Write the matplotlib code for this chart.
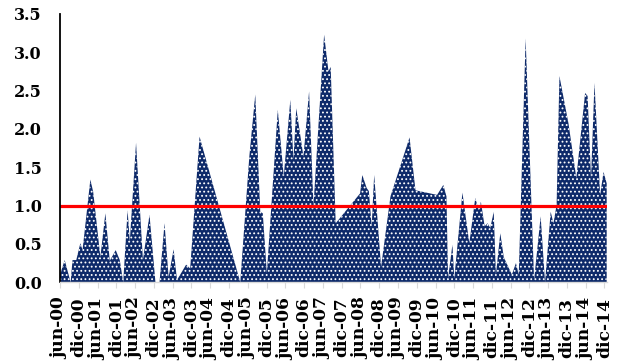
import matplotlib
matplotlib.use("Agg")
import matplotlib.pyplot as plt

# month offsets from jun-2000 and values
months = [0, 1.5, 3.4, 4.0, 5.2, 6.5, 7.2, 9.7, 10.6, 12.9, 14.5, 15.9, 17.8, 19.1, 20.2,
          21.6, 22.3, 24.3, 26.5, 28.6, 30.5, 31.8, 33.4, 34.7, 36.3, 37.4, 40.3, 41.6,
          44.6, 57.6, 60.5, 62.4, 64.0, 64.8, 66.1, 69.6, 71.5, 73.6, 74.6, 75.5, 77.8,
          79.6, 81.0, 84.4, 85.8, 86.5, 88.1, 95.9, 96.6, 98.0, 98.7, 99.6, 100.4, 102.6,
          105.6, 111.7, 113.6, 120.5, 122.5, 123.5, 124.0, 125.4, 126.0, 128.6, 130.8,
          132.7, 133.8, 134.5, 135.7, 136.6, 137.5, 138.6, 139.3, 140.7, 141.8, 144.4,
          145.7, 146.6, 148.8, 151.5, 153.6, 155.0, 156.8, 157.7, 158.7, 159.6, 162.5,
          165.0, 167.8, 168.6, 169.7, 170.8, 172.6, 173.7, 174.7]
values = [0.10, 0.29, 0.0, 0.29, 0.29, 0.51, 0.42, 1.34, 1.18, 0.33, 0.90, 0.28, 0.42, 0.29,
          0.0, 0.94, 0.53, 1.82, 0.29, 0.88, 0.0, 0.0, 0.77, 0.07, 0.43, 0.03, 0.23, 0.18,
          1.90, 0.0, 1.64, 2.45, 0.92, 0.90, 0.12, 2.25, 1.38, 2.38, 1.60, 2.27, 1.64,
          2.49, 1.00, 3.23, 2.75, 2.81, 0.77, 1.16, 1.40, 1.23, 1.19, 0.73, 1.40, 0.20,
          1.12, 1.89, 1.20, 1.14, 1.27, 1.12, 0.05, 0.49, 0.05, 1.17, 0.51, 1.10, 0.94,
          1.05, 0.73, 0.77, 0.71, 0.92, 0.10, 0.64, 0.33, 0.10, 0.25, 0.10, 3.18, 0.03,
          0.86, 0.0, 0.92, 0.77, 1.01, 2.69, 2.07, 1.36, 2.47, 2.43, 1.36, 2.60, 1.14,
          1.44, 1.29]

tick_months = [0, 6, 12, 18, 24, 30, 36, 42, 48, 54, 60, 66, 72, 78, 84, 90, 96, 102,
               108, 114, 120, 126, 132, 138, 144, 150, 156, 162, 168, 174]
tick_labels = ['jun-00', 'dic-00', 'jun-01', 'dic-01', 'jun-02', 'dic-02', 'jun-03',
               'dic-03', 'jun-04', 'dic-04', 'jun-05', 'dic-05', 'jun-06', 'dic-06',
               'jun-07', 'dic-07', 'jun-08', 'dic-08', 'jun-09', 'dic-09', 'jun-10',
               'dic-10', 'jun-11', 'dic-11', 'jun-12', 'dic-12', 'jun-13', 'dic-13',
               'jun-14', 'dic-14']
y_ticks = [0.0, 0.5, 1.0, 1.5, 2.0, 2.5, 3.0, 3.5]
threshold = 1.0

plt.rcParams['font.family'] = ['DejaVu Serif']
plt.rcParams['hatch.linewidth'] = 0.8

fig = plt.figure(figsize=(6.23, 3.64), dpi=100)
ax = fig.add_axes([60 / 623, (364 - 282.3) / 364, 547 / 623, 268.3 / 364])

ax.fill_between(months, values, 0, facecolor='#0e2a6a', edgecolor='white',
                hatch='....', linewidth=0)
ax.axhline(threshold, color='#ff0000', linewidth=2.3)

ax.set_xlim(0, 174.8)
ax.set_ylim(0, 3.5)
ax.set_yticks(y_ticks)
ax.set_yticklabels([f"{v:.1f}" for v in y_ticks], fontsize=11.5, fontweight='bold')
ax.set_xticks(tick_months)
ax.set_xticklabels(tick_labels, rotation=90, fontsize=12.3, fontweight='bold')

ax.tick_params(axis='y', length=0, pad=13)
ax.tick_params(axis='x', length=4, color='#d9d9d9', pad=7)

for s in ['top', 'right']:
    ax.spines[s].set_visible(False)
ax.spines['left'].set_color('black')
ax.spines['left'].set_linewidth(1.3)
ax.spines['bottom'].set_color('#d9d9d9')
ax.spines['bottom'].set_linewidth(1.0)

fig.savefig('out.png', dpi=100)
